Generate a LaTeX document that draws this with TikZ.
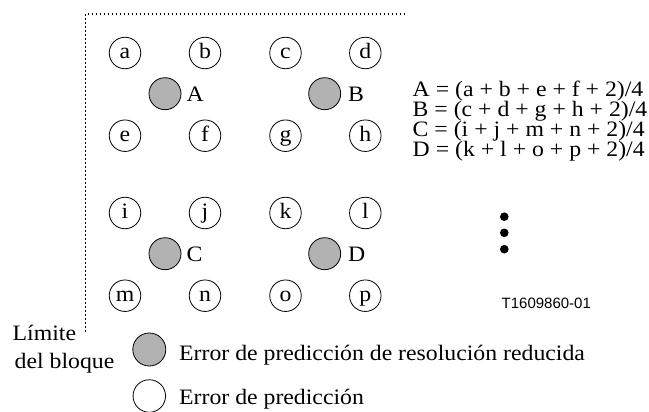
\documentclass[tikz,border=0pt]{standalone}
\usepackage{graphicx}
\usepackage{fontspec}
\setmainfont{Liberation Serif}
\newfontfamily\arialf{Liberation Sans}
\newcommand\hstretch[1]{\scalebox{1.08}[1]{#1}}
\definecolor{cGray}{RGB}{178,178,178}
\begin{document}
\begin{tikzpicture}[x=1pt,y=-1pt,
  txt/.style={font=\fontsize{22}{22}\selectfont, inner sep=0pt},
  eqn/.style={txt, anchor=base west},
  pel/.style={circle, draw=black, line width=0.8pt, minimum size=31.5pt, inner sep=0pt,
    text height=11pt, text depth=0pt, font=\fontsize{22}{22}\selectfont},
  rpel/.style={circle, draw=black, fill=cGray, line width=0.8pt, minimum size=32pt, inner sep=0pt},
  border/.style={line width=1.2pt, dash pattern=on 1.3pt off 2.7pt},
  bigdot/.style={fill=black}]
\useasboundingbox (0,0) rectangle (649,412);
% block border
\coordinate (bTR) at (405,14);
\coordinate (bTL) at (85.5,14);
\coordinate (bBL) at (85.5,332);
\draw[border] (bTR) -- (bTL) -- (bBL);
% pixel circles
\node[pel] (a) at (125,53) {\hstretch{a}};
\node[pel] (b) at (205,53) {\hstretch{b}};
\node[pel] (c) at (285.5,53) {\hstretch{c}};
\node[pel] (d) at (365.3,53) {\hstretch{d}};
\node[pel] (e) at (125,135.7) {\hstretch{e}};
\node[pel] (f) at (205,135.7) {\hstretch{f}};
\node[pel] (g) at (285.5,135.7) {\hstretch{g}};
\node[pel] (h) at (365.3,135.7) {\hstretch{h}};
\node[pel] (i) at (125,213) {\hstretch{i}};
\node[pel] (j) at (205,213) {\hstretch{j}};
\node[pel] (k) at (285.5,213) {\hstretch{k}};
\node[pel] (l) at (365.3,213) {\hstretch{l}};
\node[pel] (m) at (125,295.7) {\hstretch{m}};
\node[pel] (n) at (205,295.7) {\hstretch{n}};
\node[pel] (o) at (285.5,295.7) {\hstretch{o}};
\node[pel] (p) at (365.3,295.7) {\hstretch{p}};
% reduced resolution circles
\node[rpel] (A) at (165,93.7) {};
\node[rpel] (B) at (324.7,93.7) {};
\node[rpel] (C) at (165,253.7) {};
\node[rpel] (D) at (324.7,253.7) {};
\node[txt, anchor=base west] (lA) at (186.5,101.2) {\hstretch{A}};
\node[txt, anchor=base west] (lB) at (348,101.2) {\hstretch{B}};
\node[txt, anchor=base west] (lC) at (186.5,261.2) {\hstretch{C}};
\node[txt, anchor=base west] (lD) at (348,261.2) {\hstretch{D}};
% equations
\node[eqn] (eqA) at (412.5,97) {\hstretch{A = (a + b + e + f + 2)/4}};
\node[eqn] (eqB) at (412.5,117) {\hstretch{B = (c + d + g + h + 2)/4}};
\node[eqn] (eqC) at (412.5,137) {\hstretch{C = (i + j + m + n + 2)/4}};
\node[eqn] (eqD) at (412.5,157) {\hstretch{D = (k + l + o + p + 2)/4}};
% vertical ellipsis
\fill[bigdot] (504.3,216.7) circle (4.3);
\fill[bigdot] (504.3,232.8) circle (4.3);
\fill[bigdot] (504.3,249.2) circle (4.3);
% figure id
\node[inner sep=0pt, anchor=base west, font=\arialf\fontsize{15}{16}\selectfont] (fid) at (501.5,308.3) {T1609860-01};
% block limit label
\node[txt, anchor=base west] (lim1) at (12.5,340.7) {\hstretch{Límite}};
\node[txt, anchor=base west] (lim2) at (14.5,368) {\hstretch{del bloque}};
% legend
\node[rpel, minimum size=33pt] (legG) at (149.3,349.5) {};
\node[pel, minimum size=32.5pt] (legW) at (149.3,396) {};
\node[txt, anchor=base west] (legGt) at (179,360) {\hstretch{Error de predicción de resolución reducida}};
\node[txt, anchor=base west] (legWt) at (179,404) {\hstretch{Error de predicción}};
\end{tikzpicture}
\end{document}
